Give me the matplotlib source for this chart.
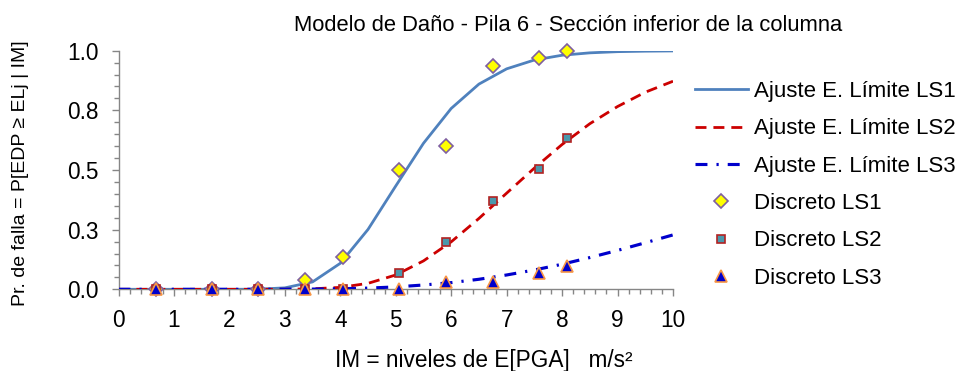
import matplotlib
matplotlib.use("Agg")
import matplotlib.pyplot as plt
from matplotlib.ticker import MultipleLocator

plt.rcParams['font.family'] = ['Liberation Sans', 'DejaVu Sans']
plt.rcParams['lines.scale_dashes'] = False

# Discrete points
x_pts = [0.68, 1.69, 2.52, 3.36, 4.04, 5.06, 5.90, 6.75, 7.59, 8.09]
ls1_pts = [0.0, 0.0, 0.0, 0.037, 0.135, 0.50, 0.60, 0.937, 0.969, 1.0]
ls2_pts = [0.0, 0.0, 0.0, 0.0, 0.0, 0.067, 0.20, 0.369, 0.503, 0.635]
ls3_pts = [0.0, 0.0, 0.0, 0.0, 0.0, 0.0, 0.032, 0.032, 0.067, 0.098]

# Fitted curves
x_fit = [0.0, 0.5, 1.0, 1.5, 2.0, 2.5, 3.0, 3.5, 4.0, 4.5, 5.0, 5.5, 6.0, 6.5, 7.0,
         7.5, 8.0, 8.5, 9.0, 9.5, 10.0]
ls1_fit = [0.0, 0.0, 0.0, 0.0, 0.0, 0.0003, 0.006, 0.031, 0.109, 0.251, 0.433, 0.612,
           0.758, 0.860, 0.924, 0.961, 0.981, 0.991, 0.996, 0.998, 0.999]
ls2_fit = [0.0, 0.0, 0.0, 0.0, 0.0, 0.0, 0.0002, 0.002, 0.008, 0.025, 0.060, 0.119,
           0.199, 0.297, 0.403, 0.508, 0.607, 0.694, 0.766, 0.826, 0.872]
ls3_fit = [0.0, 0.0, 0.0, 0.0, 0.0, 0.0, 0.0003, 0.0009, 0.0024, 0.005, 0.010, 0.018,
           0.028, 0.042, 0.060, 0.081, 0.105, 0.133, 0.163, 0.195, 0.228]

y_ticks = [0.0, 0.25, 0.5, 0.75, 1.0]
y_tick_labels = ['0.0', '0.3', '0.5', '0.8', '1.0']
x_ticks = [0, 1, 2, 3, 4, 5, 6, 7, 8, 9, 10]

title = 'Modelo de Daño - Pila 6 - Sección inferior de la columna'
xlabel = 'IM = niveles de E[PGA]   m/s²'
ylabel = 'Pr. de falla = P[EDP ≥ ELj | IM]'

W, H = 960, 371
fig = plt.figure(figsize=(9.6, 3.71), dpi=100)
ax = fig.add_axes([118.5 / W, 1 - 289.3 / H, (673 - 118.5) / W, (289.3 - 50.7) / H])

ax.plot(x_fit, ls1_fit, color='#4F81BD', lw=2.0, label='Ajuste E. Límite LS1', zorder=2)
ax.plot(x_fit, ls2_fit, color='#CC0000', lw=2.0, dashes=(7.9, 5.0),
        label='Ajuste E. Límite LS2', zorder=3)
ax.plot(x_fit, ls3_fit, color='#0000CC', lw=2.25, dashes=(8.6, 6.5, 1.6, 6.5),
        label='Ajuste E. Límite LS3', zorder=4)

ax.plot(x_pts, ls1_pts, ls='none', marker='D', ms=7, mfc='#FFFF00', mec='#7F5FA0',
        mew=1.2, label='Discreto LS1', zorder=5, clip_on=False)
ax.plot(x_pts, ls2_pts, ls='none', marker='s', ms=6.3, mfc='#4A98AC', mec='#B22222',
        mew=1.2, label='Discreto LS2', zorder=6, clip_on=False)
ax.plot(x_pts, ls3_pts, ls='none', marker='^', ms=8, mfc='#0000CC', mec='#F79646',
        mew=1.2, label='Discreto LS3', zorder=7, clip_on=False)

ax.set_xlim(0, 10)
ax.set_ylim(0, 1)
ax.set_xticks(x_ticks)
ax.set_xticklabels([str(v) for v in x_ticks])
ax.xaxis.set_minor_locator(MultipleLocator(0.2))
ax.set_yticks(y_ticks)
ax.set_yticklabels(y_tick_labels)
ax.yaxis.set_minor_locator(MultipleLocator(0.05))

for s in ['top', 'right']:
    ax.spines[s].set_visible(False)
for s in ['left', 'bottom']:
    ax.spines[s].set_color('#868686')
    ax.spines[s].set_linewidth(1.0)

ax.tick_params(which='major', direction='out', length=5, width=1, color='#868686',
               labelsize=16.3, labelcolor='black')
ax.tick_params(which='minor', direction='out', length=3.5, width=1, color='#868686')
ax.tick_params(axis='y', which='major', pad=9)
ax.tick_params(axis='x', which='major', pad=9)

fig.text(568 / W, 1 - 31 / H, title, ha='center', va='baseline', fontsize=15.8)
fig.text(335 / W, 1 - 367 / H, xlabel, ha='left', va='baseline', fontsize=16.3)
fig.text(21 / W, 1 - 173 / H, ylabel, ha='center', va='center', rotation=90, fontsize=14)

ax.legend(loc='upper left', bbox_to_anchor=(695 / W, 1 - 81 / H),
          bbox_transform=fig.transFigure, frameon=False, borderpad=0,
          borderaxespad=0, fontsize=16.0, handlelength=2.38, handletextpad=0.27,
          labelspacing=0.735)

fig.savefig('out.png', dpi=100)
